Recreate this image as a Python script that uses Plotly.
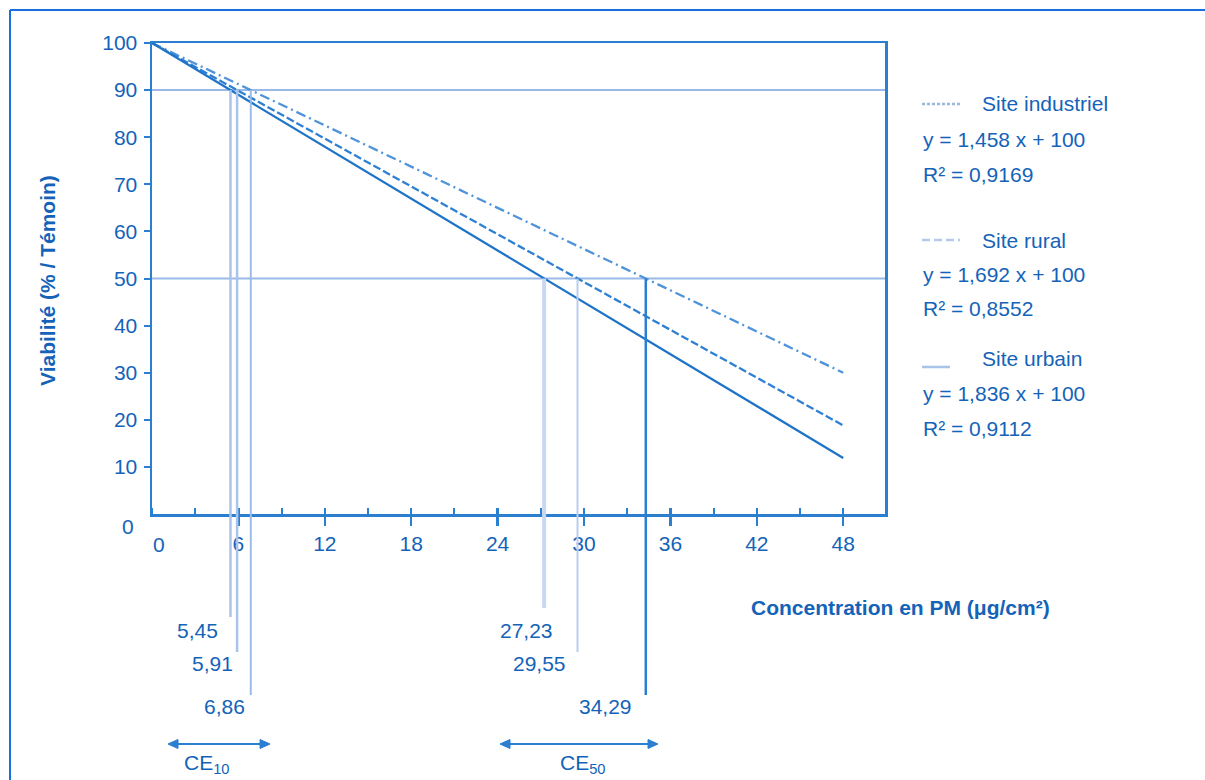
import plotly.graph_objects as go

# ---------------- data ----------------
x_fit = [0, 48]
y_industriel = [100, 30.0]
y_rural = [100, 18.8]
y_urbain = [100, 11.9]

ce10_values = [5.45, 5.91, 6.86]
ce10_labels = ["5,45", "5,91", "6,86"]
ce50_values = [27.23, 29.55, 34.29]
ce50_labels = ["27,23", "29,55", "34,29"]

legend_names = ["Site industriel", "Site rural", "Site urbain"]
legend_eqs = ["y = 1,458 x + 100", "y = 1,692 x + 100", "y = 1,836 x + 100"]
legend_r2 = ["R² = 0,9169", "R² = 0,8552", "R² = 0,9112"]

x_ticks = [0, 6, 12, 18, 24, 30, 36, 42, 48]
y_ticks = [10, 20, 30, 40, 50, 60, 70, 80, 90, 100]

# ---------------- styling ----------------
TXT = "#1463b8"
AX = "#2a7fd0"
FONT = "Liberation Sans, Arial, Helvetica, sans-serif"
FS = 21
W, H = 1205, 780
L, R, T, B = 152, 885, 43, 514  # plot area pixels
PX_PER_UNIT = 14.4


def px(x):
    return (x - L) / (R - L)


def py(y):
    return (B - y) / (B - T)


fig = go.Figure()

fig.add_trace(go.Scatter(x=x_fit, y=y_industriel, mode="lines",
                         line=dict(color="#4f93da", width=2.3, dash="10px,4px,2px,4px"),
                         showlegend=False, hoverinfo="skip"))
fig.add_trace(go.Scatter(x=x_fit, y=y_rural, mode="lines",
                         line=dict(color="#2f80d2", width=2.3, dash="8px,3px"),
                         showlegend=False, hoverinfo="skip"))
fig.add_trace(go.Scatter(x=x_fit, y=y_urbain, mode="lines",
                         line=dict(color="#1f74c8", width=2.3),
                         showlegend=False, hoverinfo="skip"))
# overlay axis trace for inner major ticks
fig.add_trace(go.Scatter(x=[None], y=[None], xaxis="x2", showlegend=False, hoverinfo="skip"))

shapes = []
# horizontal reference lines at 90 and 50
for yv in [90, 50]:
    shapes.append(dict(type="line", xref="paper", yref="y", x0=0, x1=1, y0=yv, y1=yv,
                       line=dict(color="#9ab9e8", width=2), layer="below"))

# vertical CE lines (from intersection down below axis)
ce10_ends = [617, 652, 695]
ce10_cols = ["#a9c3ec", "#a9c3ec", "#9bbbe8"]
ce10_w = [2.5, 2.5, 2]
for v, e, c, w in zip(ce10_values, ce10_ends, ce10_cols, ce10_w):
    shapes.append(dict(type="line", xref="x", yref="paper", x0=v, x1=v,
                       y0=0.9, y1=py(e), line=dict(color=c, width=w)))
ce50_ends = [608, 652, 695]
ce50_cols = ["#c9d8f1", "#b9cdee", "#2a7fd0"]
ce50_w = [4, 2, 2.5]
for v, e, c, w in zip(ce50_values, ce50_ends, ce50_cols, ce50_w):
    shapes.append(dict(type="line", xref="x", yref="paper", x0=v, x1=v,
                       y0=0.5, y1=py(e), line=dict(color=c, width=w)))

# outer frame
shapes.append(dict(type="line", xref="paper", yref="paper", x0=px(10), x1=px(1210),
                   y0=py(10), y1=py(10), line=dict(color="#1a6fe0", width=2)))
shapes.append(dict(type="line", xref="paper", yref="paper", x0=px(10), x1=px(10),
                   y0=py(10), y1=py(790), line=dict(color="#1a6fe0", width=2)))

# legend samples
shapes.append(dict(type="line", xref="paper", yref="paper", x0=px(922), x1=px(962),
                   y0=py(104), y1=py(104),
                   line=dict(color="#9bb8e0", width=2.5, dash="3px,2px")))
shapes.append(dict(type="line", xref="paper", yref="paper", x0=px(922), x1=px(960),
                   y0=py(240), y1=py(240),
                   line=dict(color="#b5c9ea", width=2.5, dash="8px,4px")))
shapes.append(dict(type="line", xref="paper", yref="paper", x0=px(922), x1=px(950),
                   y0=py(367), y1=py(367),
                   line=dict(color="#a9c2e8", width=2.5)))

# CE double arrows (line + two triangular heads)
ARROW_Y = 744
for x0, x1 in [(168, 270), (500, 658)]:
    shapes.append(dict(type="line", xref="paper", yref="paper", x0=px(x0 + 4), x1=px(x1 - 4),
                       y0=py(ARROW_Y), y1=py(ARROW_Y), line=dict(color=AX, width=2)))
    for tip, back in [(x0, x0 + 10), (x1, x1 - 10)]:
        path = (f"M {px(tip)},{py(ARROW_Y)} L {px(back)},{py(ARROW_Y - 4.5)} "
                f"L {px(back)},{py(ARROW_Y + 4.5)} Z")
        shapes.append(dict(type="path", xref="paper", yref="paper", path=path,
                           fillcolor=AX, line=dict(color=AX, width=1)))

annotations = []


def txt(text, x, y, size=FS, xanchor="left", bold=False, **kw):
    t = f"<b>{text}</b>" if bold else text
    annotations.append(dict(text=t, xref="paper", yref="paper", x=px(x), y=py(y),
                            xanchor=xanchor, yanchor="middle", showarrow=False,
                            font=dict(family=FONT, size=size, color=TXT), **kw))


legend_y = [(104, 140, 174), (240, 274, 308), (358, 393, 428)]
for name, eq, r2, (y1, y2, y3) in zip(legend_names, legend_eqs, legend_r2, legend_y):
    txt(name, 980, y1)
    txt(eq, 921, y2)
    txt(r2, 921, y3)

# CE value labels
ce10_pos = [(197, 630), (212, 663), (224, 706)]
ce50_pos = [(526, 630), (539, 663), (605, 706)]
for lab, (x, y) in zip(ce10_labels, ce10_pos):
    txt(lab, x, y, xanchor="center")
for lab, (x, y) in zip(ce50_labels, ce50_pos):
    txt(lab, x, y, xanchor="center")

txt("CE<sub>10</sub>", 207, 764, xanchor="center")
txt("CE<sub>50</sub>", 583, 764, xanchor="center")

# zero labels
txt("0", 128, 526, xanchor="center")
txt("0", 159, 544, xanchor="center")

# axis titles
txt("Concentration en PM (μg/cm²)", 749, 607, bold=True)
annotations.append(dict(text="<b>Viabilité (% / Témoin)</b>", xref="paper", yref="paper",
                        x=px(47), y=py(281), textangle=-90, showarrow=False,
                        xanchor="center", yanchor="middle",
                        font=dict(family=FONT, size=FS, color=TXT)))

xr = [0, (R - L) / PX_PER_UNIT]

fig.update_layout(
    width=W, height=H, autosize=False,
    margin=dict(l=L, r=W - R, t=T, b=H - B, pad=0),
    paper_bgcolor="white", plot_bgcolor="white",
    showlegend=False, hovermode=False,
    font=dict(family=FONT, size=FS, color=TXT),
    xaxis=dict(range=xr, tickvals=x_ticks[1:], ticktext=[str(v) for v in x_ticks[1:]],
               showgrid=False, zeroline=False, showline=True, linecolor=AX, linewidth=2.5,
               mirror=True, ticks="outside", ticklen=9, tickwidth=2.5, tickcolor=AX,
               minor=dict(ticks="inside", dtick=3, tick0=0, ticklen=6, tickwidth=2,
                          tickcolor=AX),
               tickfont=dict(size=FS, color=TXT), fixedrange=True),
    xaxis2=dict(range=xr, overlaying="x", anchor="y", side="bottom", tickvals=x_ticks,
                showticklabels=False, showgrid=False, zeroline=False, showline=False,
                ticks="inside", ticklen=6, tickwidth=2.5, tickcolor=AX, fixedrange=True),
    yaxis=dict(range=[0, 100], tickvals=y_ticks, showgrid=False, zeroline=False,
               showline=True, linecolor=AX, linewidth=2.5, mirror=True,
               ticks="outside", ticklen=6, tickwidth=2, tickcolor=AX,
               ticklabelstandoff=2,
               tickfont=dict(size=FS, color=TXT), fixedrange=True),
    shapes=shapes,
    annotations=annotations,
)

fig.write_html("out.html",
               config={"displayModeBar": False, "staticPlot": True},
               post_script="document.body.style.margin='0px';"
                           "document.body.style.overflow='hidden';")
